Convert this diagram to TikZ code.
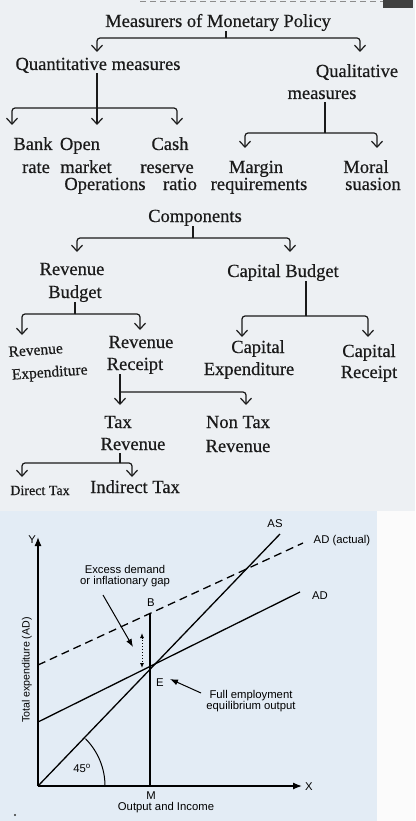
\documentclass[tikz,border=0pt]{standalone}
\usepackage{fontspec}
\setmainfont{Liberation Serif}[FakeBold=0.5]
\setsansfont{Liberation Sans}
\usetikzlibrary{arrows.meta,calc}

\definecolor{ink}{HTML}{1A1A1A}
\definecolor{paper}{HTML}{EDF0F3}
\definecolor{plate}{HTML}{E3ECF5}
\definecolor{margin}{HTML}{FBFBFB}

\newcommand{\treefont}{\fontsize{18.5}{20}\selectfont\addfontfeature{FakeBold=0.5}}
\newcommand{\treesmall}{\fontsize{15.5}{17}\selectfont\addfontfeature{FakeBold=0.5}}
\newcommand{\treetiny}{\fontsize{14}{16}\selectfont\addfontfeature{FakeBold=0.5}}
\newcommand{\graphfont}{\sffamily\fontsize{11.3}{13}\selectfont}

\tikzset{
  lbl/.style={font=\treefont, text=ink, inner sep=0pt, anchor=base},
  lblsmall/.style={lbl, font=\treesmall},
  lbltiny/.style={lbl, font=\treetiny},
  branch/.style={draw=ink, line width=1.2pt, rounded corners=3pt},
  stem/.style={branch, shorten <=3pt},
  tip/.style={-{Straight Barb[length=6pt,width=11pt]}},
  gtext/.style={font=\graphfont, text=black, inner sep=0pt},
  gline/.style={draw=black, line width=1.3pt},
  axisline/.style={gline, -{Latex[length=9pt,width=7pt]}},
  pointer/.style={draw=black, line width=1pt, -{Latex[length=8pt,width=6pt]}},
}

\begin{document}
\begin{tikzpicture}[x=1pt, y=-1pt]
  \useasboundingbox (0,0) rectangle (415,821);

  % page and printed plate
  \fill[paper] (0,0) rectangle (415,511);
  \fill[margin] (0,511) rectangle (415,821);
  \fill[plate] (0,511) rectangle (377,821);
  \draw[black!45, line width=1pt, dash pattern=on 6pt off 4pt] (140,2) -- (383,2);
  \fill[black!75] (383,0) rectangle (413,8);

  % ---------- Measurers of Monetary Policy ----------
  \node[lbl] (mmp) at (218,27) {Measurers of Monetary Policy};
  \coordinate (j1) at (226,38);
  \coordinate (t1a) at (97,52);
  \coordinate (t1b) at (360,52);
  \draw[branch] (mmp.south -| j1) -- (j1);
  \draw[branch,tip] (j1) -| (t1a);
  \draw[branch,tip] (j1) -| (t1b);

  \node[lbl] (qnt) at (98,70) {Quantitative measures};
  \node[lbl] (qlt1) at (357,77) {Qualitative};
  \node[lbl] (qlt2) at (322,99) {measures};

  \coordinate (j2) at (97,108);
  \coordinate (t2a) at (12,125);
  \coordinate (t2b) at (97,125);
  \coordinate (t2c) at (177,125);
  \draw[branch] (qnt.south -| j2) -- (j2);
  \draw[branch,tip] (j2) -| (t2a);
  \draw[branch,tip] (j2) -- (t2b);
  \draw[branch,tip] (j2) -| (t2c);

  \coordinate (j3) at (325,133);
  \coordinate (t3a) at (245,148);
  \coordinate (t3b) at (377,148);
  \draw[stem] (qlt2.south -| j3) -- (j3);
  \draw[branch,tip] (j3) -| (t3a);
  \draw[branch,tip] (j3) -| (t3b);

  \node[lbl] (bank1) at (33,150) {Bank};
  \node[lbl] (bank2) at (36,173) {rate};
  \node[lbl] (omo1) at (80,150) {Open};
  \node[lbl] (omo2) at (86,173) {market};
  \node[lbl] (omo3) at (105,190) {Operations};
  \node[lbl] (crr1) at (170,150) {Cash};
  \node[lbl] (crr2) at (167,173) {reserve};
  \node[lbl] (crr3) at (180,190) {ratio};
  \node[lbl] (mr1) at (256,173) {Margin};
  \node[lbl] (mr2) at (259,190) {requirements};
  \node[lbl] (ms1) at (366,173) {Moral};
  \node[lbl] (ms2) at (373,190) {suasion};

  % ---------- Components of the budget ----------
  \node[lbl] (comp) at (195,222) {Components};
  \coordinate (j4) at (193,238);
  \coordinate (t4a) at (77,252);
  \coordinate (t4b) at (290,252);
  \draw[branch] (comp.south -| j4) -- (j4);
  \draw[branch,tip] (j4) -| (t4a);
  \draw[branch,tip] (j4) -| (t4b);

  \node[lbl] (rb1) at (72,275) {Revenue};
  \node[lbl] (rb2) at (75,298) {Budget};
  \node[lbl] (cb) at (283,277) {Capital Budget};

  \coordinate (j5) at (75,314);
  \coordinate (t5a) at (22,335);
  \coordinate (t5b) at (140,330);
  \draw[branch] (rb2.south -| j5) -- (j5);
  \draw[branch,tip] (j5) -| (t5a);
  \draw[branch,tip] (j5) -| (t5b);

  \coordinate (j6) at (306,316);
  \coordinate (t6a) at (242,337);
  \coordinate (t6b) at (368,337);
  \draw[branch] (cb.south -| j6) -- (j6);
  \draw[branch,tip] (j6) -| (t6a);
  \draw[branch,tip] (j6) -| (t6b);

  \node[lblsmall, rotate=4] (re1) at (36,355) {Revenue};
  \node[lblsmall, rotate=4] (re2) at (50,377) {Expenditure};
  \node[lbl] (rr1) at (141,348) {Revenue};
  \node[lbl] (rr2) at (135,370) {Receipt};
  \node[lbl] (ce1) at (258,353) {Capital};
  \node[lbl] (ce2) at (249,375) {Expenditure};
  \node[lbl] (cr1) at (369,357) {Capital};
  \node[lbl] (cr2) at (369,378) {Receipt};

  % ---------- Revenue receipt ----------
  \coordinate (j7) at (120,392);
  \coordinate (t7a) at (120,405);
  \coordinate (t7b) at (246,405);
  \draw[branch,tip] (rr2.south -| j7) -- (t7a);
  \draw[branch,tip] (j7) -| (t7b);

  \node[lbl] (tr1) at (118,428) {Tax};
  \node[lbl] (tr2) at (133,450) {Revenue};
  \node[lbl] (nt1) at (238,428) {Non Tax};
  \node[lbl] (nt2) at (238,452) {Revenue};

  \coordinate (j8) at (120,463);
  \coordinate (t8a) at (22,477);
  \coordinate (t8b) at (132,477);
  \draw[stem] (tr2.south -| j8) -- (j8);
  \draw[branch,tip] (j8) -| (t8a);
  \draw[branch,tip] (j8) -| (t8b);

  \node[lbltiny] (dt) at (40,495) {Direct Tax};
  \node[lbl] (it) at (135,493) {Indirect Tax};

  % ---------- Inflationary gap diagram ----------
  \coordinate (O) at (38,786);
  \coordinate (ytop) at (38,537);
  \coordinate (xend) at (302,786);
  \coordinate (M) at (150,786);
  \coordinate (B) at (150,614);
  \coordinate (E) at (150,670);
  \coordinate (ast) at (280,534);
  \coordinate (ad0) at (38,722);
  \coordinate (ad1) at (300,592);
  \coordinate (ada0) at (38,665);
  \coordinate (ada1) at (303,543);
  \coordinate (arc0) at (105,786);

  \draw[axisline] (O) -- (ytop);
  \draw[axisline] (O) -- (xend);
  \node[gtext, anchor=east] (ylab) at (36,540) {Y};
  \node[gtext, anchor=west] (xlab) at (305,787) {X};

  \draw[gline] (M) -- (B);
  \draw[gline] (O) -- (ast);
  \draw[gline] (ad0) -- (ad1);
  \draw[gline, dash pattern=on 8pt off 5pt] (ada0) -- (ada1);
  % 45 degree angle mark (y axis points down, so the angle runs negative)
  \draw[gline, line width=1pt] (arc0) arc[start angle=0, end angle=-45, radius=67];

  \node[gtext] (as) at (275,524) {AS};
  \node[gtext] (adl) at (320,596) {AD};
  \node[gtext] (adal) at (342,541) {AD (actual)};
  \node[gtext] (blab) at (151,603) {B};
  \node[gtext] (elab) at (160,683) {E};
  \node[gtext] (mlab) at (151,796) {M};
  \node[gtext] (out) at (166,808) {Output and Income};
  \node[gtext] (ang) at (82,768) {45\textsuperscript{o}};
  \node[gtext, rotate=90, font=\sffamily\fontsize{10.6}{12}\selectfont] (te) at (27,670) {Total expenditure (AD)};

  \node[gtext, align=center] (gap) at (125,576) {Excess demand\\[-1.5pt]or inflationary gap};
  \node[gtext, align=center] (fe) at (251,701) {Full employment\\[-1.5pt]equilibrium output};

  \coordinate (gtop) at (142,633);
  \coordinate (gbot) at (142,668);
  \draw[black, line width=0.9pt, dotted, {Latex[length=5pt,width=4pt]}-{Latex[length=5pt,width=4pt]}] (gtop) -- (gbot);

  \coordinate (p1s) at (103,595);
  \coordinate (p1e) at (133,647);
  \draw[pointer] (p1s) -- (p1e);
  \coordinate (p2s) at (201,693);
  \coordinate (p2e) at (170,679);
  \draw[pointer] (p2s) -- (p2e);

  \fill[black!80] (15,815) circle (1.1);
\end{tikzpicture}
\end{document}
